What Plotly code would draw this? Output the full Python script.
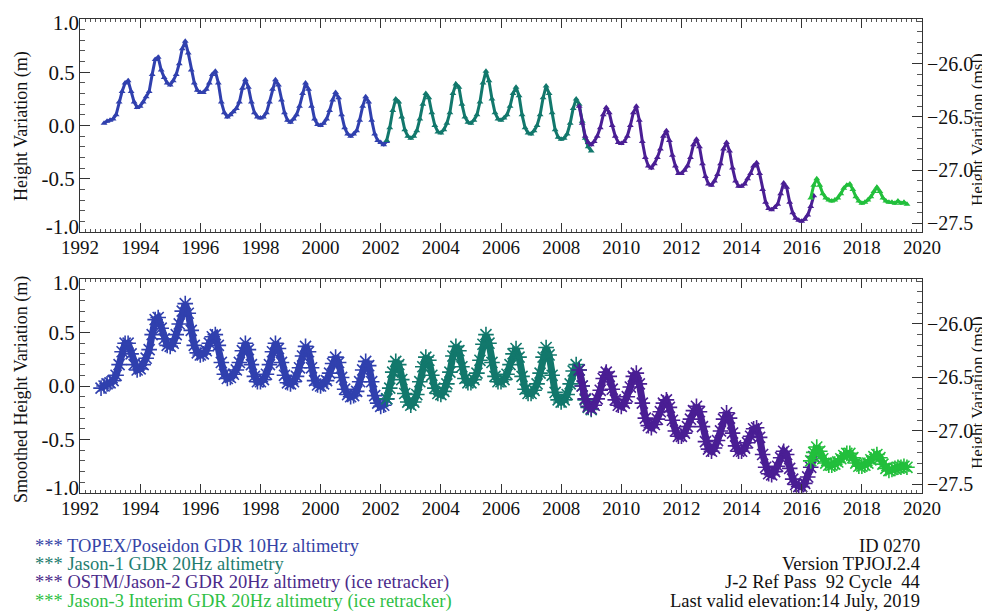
import numpy as np
import plotly.graph_objects as go

# ---------------- data ----------------
STEP = 0.1  # sampling step in years of the listed values

topex_start = 1992.8
topex_raw = [0.02, 0.04, 0.05, 0.06, 0.10, 0.22, 0.32, 0.40, 0.42, 0.32, 0.22, 0.17,
             0.18, 0.22, 0.27, 0.32, 0.48, 0.62, 0.64, 0.52, 0.45, 0.40,
             0.38, 0.42, 0.48, 0.58, 0.72, 0.79, 0.68, 0.52, 0.40, 0.33,
             0.31, 0.31, 0.34, 0.40, 0.48, 0.51, 0.40, 0.22, 0.12, 0.08,
             0.10, 0.13, 0.16, 0.22, 0.35, 0.43, 0.36, 0.22, 0.12, 0.08,
             0.07, 0.08, 0.12, 0.22, 0.34, 0.43, 0.38, 0.24, 0.12, 0.05,
             0.03, 0.06, 0.10, 0.18, 0.30, 0.40, 0.34, 0.18, 0.06, 0.01,
             0.00, 0.02, 0.06, 0.14, 0.24, 0.31, 0.26, 0.10, -0.02, -0.08,
             -0.10, -0.08, -0.05, 0.05, 0.18, 0.27, 0.22, 0.05, -0.08, -0.14,
             -0.16, -0.18, -0.15]

jason1_start = 2002.2
jason1_raw = [-0.14, -0.02, 0.14, 0.25, 0.22, 0.08, -0.04, -0.10,
              -0.12, -0.10, -0.05, 0.06, 0.20, 0.30, 0.26, 0.12, 0.00, -0.06,
              -0.07, -0.04, 0.02, 0.12, 0.30, 0.39, 0.36, 0.20, 0.08, 0.03,
              0.02, 0.05, 0.10, 0.22, 0.40, 0.51, 0.42, 0.25, 0.12, 0.06,
              0.05, 0.07, 0.10, 0.18, 0.30, 0.36, 0.28, 0.10, -0.02, -0.07,
              -0.08, -0.05, 0.00, 0.10, 0.26, 0.37, 0.30, 0.12, -0.04, -0.11,
              -0.13, -0.12, -0.08, 0.02, 0.16, 0.25, 0.20, 0.04, -0.12, -0.20,
              -0.24]

jason2_start = 2008.6
jason2_raw = [0.18, 0.02, -0.10, -0.16,
              -0.18, -0.15, -0.10, -0.02, 0.10, 0.17, 0.12, 0.00, -0.10, -0.16,
              -0.17, -0.15, -0.10, 0.00, 0.12, 0.18, 0.05, -0.15, -0.30, -0.38,
              -0.40, -0.36, -0.30, -0.22, -0.10, -0.05, -0.14, -0.28, -0.38, -0.45,
              -0.45, -0.42, -0.38, -0.30, -0.18, -0.13, -0.20, -0.36, -0.48, -0.55,
              -0.56, -0.52, -0.46, -0.36, -0.22, -0.16, -0.24, -0.40, -0.52, -0.57,
              -0.57, -0.55, -0.50, -0.45, -0.38, -0.35, -0.45, -0.60, -0.72, -0.78,
              -0.79, -0.77, -0.74, -0.64, -0.54, -0.58, -0.72, -0.82, -0.87, -0.89,
              -0.90, -0.88, -0.84, -0.76, -0.66]

jason3_start = 2016.3
jason3_raw = [-0.68, -0.56, -0.50, -0.56, -0.64, -0.68, -0.70,
              -0.71, -0.70, -0.68, -0.64, -0.59, -0.56, -0.55, -0.60, -0.67, -0.71,
              -0.73, -0.72, -0.70, -0.67, -0.62, -0.58, -0.62, -0.68, -0.71, -0.72,
              -0.72, -0.73, -0.71, -0.73, -0.72, -0.74]

topex_smooth_start = 1992.7
topex_smooth = [-0.02, 0.00, 0.02, 0.03, 0.05, 0.10, 0.20, 0.32, 0.40, 0.40, 0.30, 0.20, 0.15,
                0.16, 0.20, 0.26, 0.34, 0.48, 0.62, 0.64, 0.54, 0.44, 0.38,
                0.37, 0.40, 0.48, 0.58, 0.70, 0.77, 0.68, 0.52, 0.38, 0.31,
                0.29, 0.30, 0.33, 0.40, 0.46, 0.48, 0.38, 0.22, 0.11, 0.07,
                0.08, 0.11, 0.15, 0.22, 0.33, 0.40, 0.34, 0.20, 0.09, 0.04,
                0.04, 0.06, 0.11, 0.20, 0.32, 0.40, 0.35, 0.22, 0.10, 0.03,
                0.02, 0.04, 0.09, 0.17, 0.28, 0.37, 0.32, 0.17, 0.05, 0.01,
                0.00, 0.02, 0.05, 0.12, 0.21, 0.27, 0.22, 0.08, -0.03, -0.08,
                -0.10, -0.09, -0.05, 0.04, 0.15, 0.23, 0.19, 0.04, -0.09, -0.16,
                -0.19, -0.18, -0.12]

jason1_smooth_start = 2002.2
jason1_smooth = [-0.12, -0.02, 0.13, 0.23, 0.20, 0.06, -0.07, -0.15,
                 -0.18, -0.15, -0.08, 0.04, 0.18, 0.27, 0.24, 0.10, -0.02, -0.07,
                 -0.08, -0.05, 0.02, 0.13, 0.28, 0.37, 0.33, 0.18, 0.07, 0.03,
                 0.03, 0.06, 0.12, 0.24, 0.39, 0.48, 0.40, 0.22, 0.09, 0.04,
                 0.04, 0.06, 0.11, 0.20, 0.30, 0.35, 0.27, 0.09, -0.03, -0.07,
                 -0.07, -0.04, 0.02, 0.12, 0.27, 0.36, 0.29, 0.10, -0.06, -0.13,
                 -0.15, -0.13, -0.08, 0.02, 0.14, 0.20, 0.15, 0.00, -0.13, -0.20,
                 -0.22]

jason2_smooth_start = 2008.6
jason2_smooth = [0.15, 0.00, -0.12, -0.19,
                 -0.21, -0.18, -0.12, -0.04, 0.07, 0.13, 0.09, -0.03, -0.13, -0.18,
                 -0.19, -0.16, -0.10, -0.01, 0.09, 0.12, 0.02, -0.16, -0.30, -0.37,
                 -0.39, -0.36, -0.31, -0.24, -0.16, -0.13, -0.20, -0.32, -0.42, -0.47,
                 -0.47, -0.44, -0.38, -0.31, -0.23, -0.19, -0.24, -0.38, -0.52, -0.59,
                 -0.61, -0.58, -0.51, -0.42, -0.31, -0.25, -0.30, -0.44, -0.56, -0.61,
                 -0.61, -0.58, -0.53, -0.47, -0.40, -0.39, -0.48, -0.64, -0.76, -0.82,
                 -0.83, -0.80, -0.75, -0.67, -0.61, -0.64, -0.77, -0.87, -0.92, -0.94,
                 -0.94, -0.91, -0.85, -0.76, -0.66]

jason3_smooth_start = 2016.3
jason3_smooth = [-0.70, -0.62, -0.57, -0.61, -0.68, -0.72, -0.74,
                 -0.74, -0.73, -0.71, -0.68, -0.65, -0.63, -0.63, -0.67, -0.72, -0.75,
                 -0.75, -0.74, -0.72, -0.69, -0.66, -0.64, -0.67, -0.73, -0.77, -0.79,
                 -0.78, -0.77, -0.76, -0.76, -0.75, -0.76]

year_ticks = list(range(1992, 2021, 2))
left_ticks = [-1.0, -0.5, 0.0, 0.5, 1.0]
left_inner_labels = ["", "-0.5", "0.0", "0.5", ""]
right_ticks = [-27.5, -27.0, -26.5, -26.0]
MSL_OFFSET = -26.58  # right axis = left axis + offset

missions = ["TOPEX/Poseidon GDR 10Hz altimetry",
            "Jason-1 GDR 20Hz altimetry",
            "OSTM/Jason-2 GDR 20Hz altimetry (ice retracker)",
            "Jason-3 Interim GDR 20Hz altimetry (ice retracker)"]
info_lines = ["ID 0270", "Version TPJOJ.2.4", "J-2 Ref Pass  92 Cycle  44",
              "Last valid elevation:14 July, 2019"]

# ---------------- styling ----------------
colors = ["#3040ae", "#12786c", "#4a1e94", "#22bf3c"]
text_colors = ["#3544a6", "#1f7d6f", "#4b2a8a", "#2fbf45"]
FONT = "Liberation Serif, Times New Roman, serif"
W, H = 990, 613
OFF = 8  # the page places the figure 8 px from the window's top-left corner


def px_x(p):
    return (p - OFF) / W


def px_y(p):
    return 1 - (p - OFF) / H


def times(start, vals):
    return np.round(start + STEP * np.arange(len(vals)), 3)


raw_series = [(topex_start, topex_raw), (jason1_start, jason1_raw),
              (jason2_start, jason2_raw), (jason3_start, jason3_raw)]
smooth_series = [(topex_smooth_start, topex_smooth), (jason1_smooth_start, jason1_smooth),
                 (jason2_smooth_start, jason2_smooth), (jason3_smooth_start, jason3_smooth)]

fig = go.Figure()
for i, (s, v) in enumerate(raw_series):
    fig.add_trace(go.Scatter(x=times(s, v), y=v, mode="lines+markers", xaxis="x", yaxis="y",
                             line=dict(color=colors[i], width=3),
                             marker=dict(symbol="triangle-up", size=6, color=colors[i]),
                             showlegend=False, hoverinfo="skip"))
for i, (s, v) in enumerate(smooth_series):
    fig.add_trace(go.Scatter(x=times(s, v), y=v, mode="lines+markers", xaxis="x2", yaxis="y2",
                             line=dict(color=colors[i], width=7),
                             marker=dict(symbol="asterisk-open", size=13, color=colors[i],
                                         line=dict(width=1.6, color=colors[i])),
                             showlegend=False, hoverinfo="skip"))
# empty traces to anchor the extra (overlay) axes
for xa, ya in [("x", "y3"), ("x2", "y4"), ("x", "y5"), ("x", "y6"), ("x2", "y7"), ("x2", "y8")]:
    fig.add_trace(go.Scatter(x=[None], y=[None], xaxis=xa, yaxis=ya, showlegend=False))

x_dom = [px_x(80), px_x(922)]
top_dom = [px_y(232), px_y(19)]
bot_dom = [px_y(493), px_y(279)]

axis_common = dict(showline=True, linecolor="#333", linewidth=1, ticks="inside",
                   tickcolor="#333", showgrid=False, zeroline=False, automargin=False,
                   ticklabeloverflow="allow")
xcommon = dict(axis_common, range=[1992, 2020], tickvals=year_ticks, ticklen=9,
               mirror="ticks", domain=x_dom, ticklabelstandoff=-2,
               tickfont=dict(family=FONT, size=19, color="#111"),
               minor=dict(ticks="inside", dtick=1/6, ticklen=3, tickcolor="#555"))
ycommon = dict(axis_common, range=[-1, 1], tickvals=left_ticks, ticktext=left_inner_labels,
               ticklen=10, tickfont=dict(family=FONT, size=21, color="#111"),
               minor=dict(ticks="inside", dtick=0.1, ticklen=5, tickcolor="#555"))
# end labels (1.0 / -1.0) sit slightly inside the frame, as in the reference
end_common = dict(range=[-1, 1], showline=False, ticks="", showgrid=False, zeroline=False,
                  automargin=False, ticklabeloverflow="allow", side="left",
                  tickfont=dict(family=FONT, size=21, color="#111"))
rcommon = dict(axis_common, range=[-1 + MSL_OFFSET, 1 + MSL_OFFSET], tickvals=right_ticks,
               tickformat=".1f", ticklen=10, side="right",
               tickfont=dict(family=FONT, size=20, color="#111"),
               minor=dict(ticks="inside", dtick=0.1, ticklen=5, tickcolor="#555"))

fig.update_layout(
    width=W, height=H, margin=dict(l=0, r=0, t=0, b=0, autoexpand=False),
    paper_bgcolor="white", plot_bgcolor="white",
    xaxis=dict(xcommon, anchor="y"),
    yaxis=dict(ycommon, domain=top_dom, anchor="x"),
    yaxis3=dict(rcommon, domain=top_dom, anchor="x", overlaying="y"),
    yaxis5=dict(end_common, domain=top_dom, anchor="x", overlaying="y",
                tickvals=[1.0], ticktext=["1.0"], ticklabelshift=4),
    yaxis6=dict(end_common, domain=top_dom, anchor="x", overlaying="y",
                tickvals=[-1.0], ticktext=["-1.0"], ticklabelshift=-5),
    xaxis2=dict(xcommon, anchor="y2"),
    yaxis2=dict(ycommon, domain=bot_dom, anchor="x2"),
    yaxis4=dict(rcommon, domain=bot_dom, anchor="x2", overlaying="y2"),
    yaxis7=dict(end_common, domain=bot_dom, anchor="x2", overlaying="y2",
                tickvals=[1.0], ticktext=["1.0"], ticklabelshift=4),
    yaxis8=dict(end_common, domain=bot_dom, anchor="x2", overlaying="y2",
                tickvals=[-1.0], ticktext=["-1.0"], ticklabelshift=-5),
)

ann = []
title_font = dict(family=FONT, size=18, color="#111")
right_title_font = dict(family=FONT, size=17, color="#111")
ann.append(dict(text="Height Variation (m)", x=px_x(21), y=px_y(126), xref="paper", yref="paper",
                textangle=-90, showarrow=False, font=title_font, xanchor="center", yanchor="middle"))
ann.append(dict(text="Smoothed Height Variation (m)", x=px_x(21), y=px_y(390), xref="paper",
                yref="paper", textangle=-90, showarrow=False, font=title_font,
                xanchor="center", yanchor="middle"))
ann.append(dict(text="Height Variation (msl)", x=px_x(977), y=px_y(130), xref="paper",
                yref="paper", textangle=-90, showarrow=False, font=right_title_font,
                xanchor="center", yanchor="middle"))
ann.append(dict(text="Height Variation (msl)", x=px_x(977), y=px_y(393), xref="paper",
                yref="paper", textangle=-90, showarrow=False, font=right_title_font,
                xanchor="center", yanchor="middle"))

line_y = [546, 564, 582, 601]
for i, m in enumerate(missions):
    ann.append(dict(text="*** " + m, x=px_x(33), y=px_y(line_y[i]), xref="paper", yref="paper",
                    showarrow=False, xanchor="left", yanchor="middle",
                    font=dict(family=FONT, size=18.5, color=text_colors[i])))
for i, t in enumerate(info_lines):
    ann.append(dict(text=t, x=px_x(922), y=px_y(line_y[i]), xref="paper", yref="paper",
                    showarrow=False, xanchor="right", yanchor="middle",
                    font=dict(family=FONT, size=18.5, color="#111")))
fig.update_layout(annotations=ann)

fig.write_html("out.html")
